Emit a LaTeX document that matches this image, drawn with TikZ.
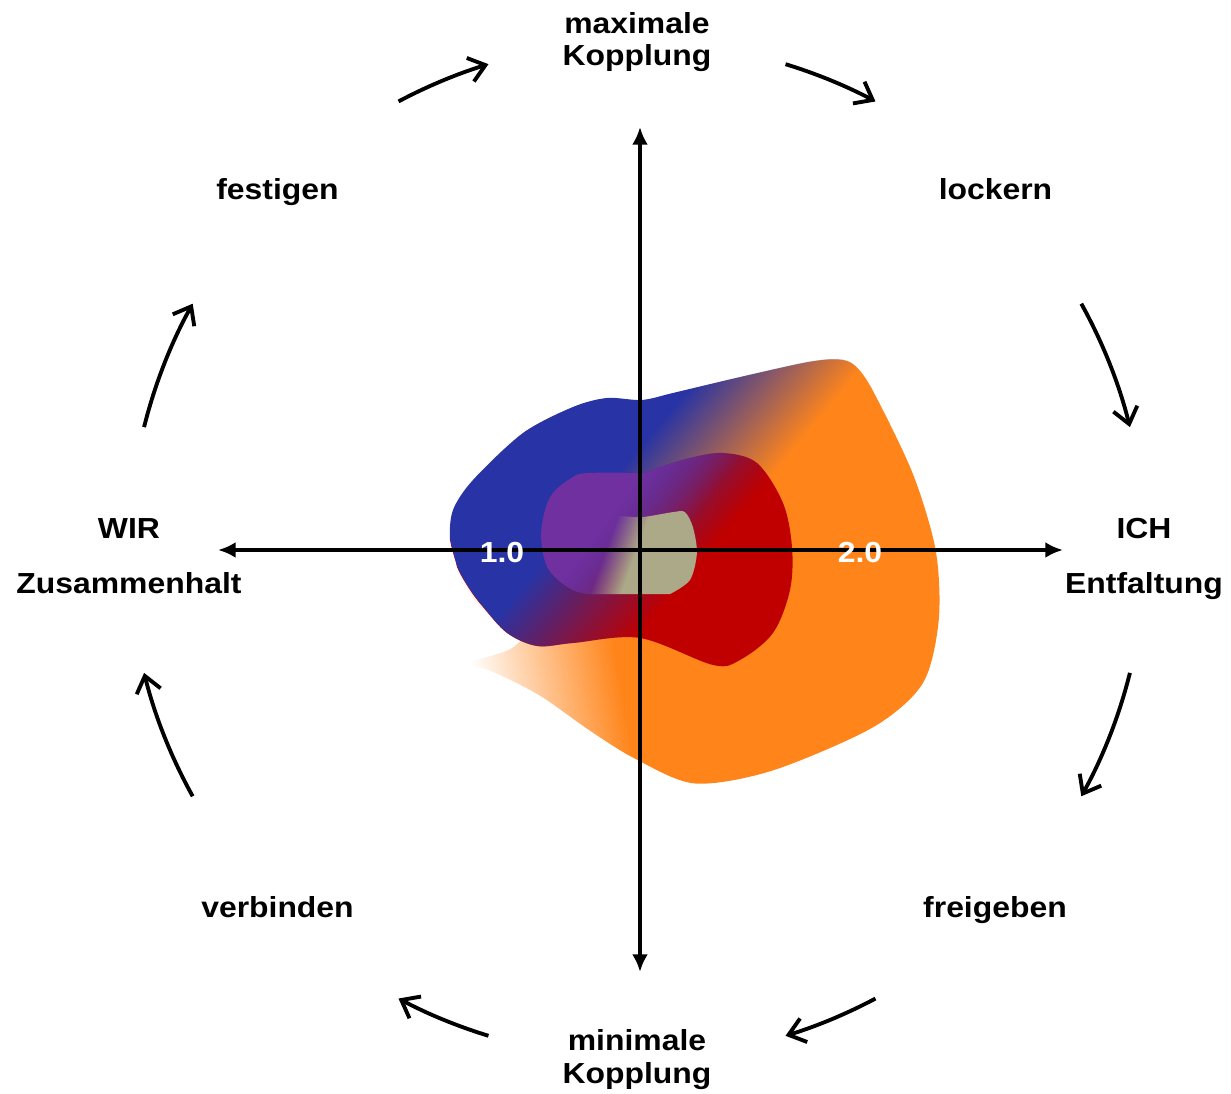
\documentclass[tikz,border=0pt]{standalone}
\usepackage{fontspec}
\setmainfont{Liberation Sans}[FakeStretch=1.1]
\usetikzlibrary{arrows.meta,fadings}

\definecolor{myorange}{RGB}{255,133,27}
\definecolor{myblue}{RGB}{40,52,165}
\definecolor{myred}{RGB}{192,0,0}
\definecolor{mypurple}{RGB}{112,48,160}
\definecolor{mykhaki}{RGB}{172,169,137}

% soft edge: opaque on the left, transparent on the right, band of 2cm
\pgfdeclarehorizontalshading{edgeshade}{2000bp}{color(0bp)=(white); color(971.65bp)=(white); color(1028.35bp)=(black); color(2000bp)=(black)}
\pgfdeclarefading{edgefade}{\pgfuseshading{edgeshade}}

\tikzstyle{ringtext}=[font=\bfseries\fontsize{16.5}{18}\selectfont, anchor=base, inner sep=0pt]
\tikzstyle{scaletext}=[ringtext, text=white]
\tikzstyle{axisline}=[line width=2pt, {Latex[length=10pt,width=9pt]}-{Latex[length=10pt,width=9pt]}]
\tikzstyle{cyclearrow}=[line width=2.2pt, -{Straight Barb[length=9pt,width=14pt]}]
\tikzset{soft edge/.style n args={4}{path fading=edgefade, fit fading=false,
    fading transform={shift={(#1,#2)}, rotate=#3, xscale=#4}}}

% orange outline with its tail, and a wider one to clip the inner layers
\def\outerblob{plot[smooth cycle, tension=0.5] coordinates {(-180,-113) (-150,-120) (-100,-145) (-50,-180) (-5,-208) (55,-233) (133,-220) (233,-177) (283,-133) (299,-70) (296,0) (273,77) (233,160) (215,185) (198,191) (167,188) (100,173) (33,157) (2,150) (-33,152) (-67,143) (-117,117) (-167,70) (-187,40) (-190,10) (-183,-17) (-165,-50) (-140,-72) (-118,-86) (-130,-99) (-158,-108)}}
\def\clipblob{plot[smooth cycle, tension=0.5] coordinates {(-180,-113) (-150,-120) (-100,-145) (-50,-180) (-5,-208) (55,-233) (133,-220) (233,-177) (283,-133) (299,-70) (296,0) (273,77) (233,160) (215,185) (198,191) (167,188) (100,173) (33,157) (2,150) (-33,152) (-67,143) (-117,117) (-167,70) (-187,40) (-190,10) (-183,-17) (-178,-60) (-185,-100)}}
\def\redblob{plot[smooth, tension=0.55] coordinates {(-190,10) (-183,-17) (-170,-40) (-157,-57) (-133,-83) (-103,-96) (-67,-93) (0,-88) (73,-115) (100,-110) (133,-83) (150,-40) (152,3) (143,47) (117,87) (83,97) (50,92) (17,82) (0,77) (-60,80) (-120,60) (-170,30)} -- cycle}

\begin{document}
\begin{tikzpicture}[x=0.02cm, y=0.02cm]
\useasboundingbox (-640,-544) rectangle (591,550);

% coloured layers
\fill[myorange, soft edge={-113.3}{-20}{190}{1.44}] \outerblob;
\begin{scope}
    \clip \clipblob;
    \fill[myred] \redblob;
    \fill[myblue, soft edge={-5.4}{4.5}{-40}{1.2}] plot[smooth, tension=0.55] coordinates {(-190,10) (-183,-17) (-170,-40) (-157,-57) (-133,-83) (-103,-96) (-67,-93) (0,-88) (73,-115) (100,-110)} -- (400,-110) -- (400,300) -- (-300,300) -- (-300,10) -- cycle;
\end{scope}
\begin{scope}
    \clip \redblob;
    \fill[mypurple, soft edge={-7.2}{5.4}{-37}{0.7}] plot[smooth, tension=0.55] coordinates {(-20,-44) (-53,-44) (-73,-37) (-93,-17) (-99,17) (-90,53) (-67,73) (-50,77) (0,77)} -- (0,200) -- (300,200) -- (300,-44) -- cycle;
\end{scope}
\fill[mykhaki, soft edge={-16.9}{6.2}{160}{0.3}] plot[smooth, tension=0.5] coordinates {(-75,-44) (-78,-20) (-55,15) (-30,33) (2,33) (33,38) (45,38) (53,23) (57,-3) (50,-30) (30,-44)} -- cycle;

% axes
\coordinate (axW) at (-422,0);
\coordinate (axE) at (423,0);
\coordinate (axN) at (0,423);
\coordinate (axS) at (0,-422);
\draw[axisline] (axW) -- (axE);
\draw[axisline] (axS) -- (axN);

\node[scaletext] (one) at (-138,-13) {1.0};
\node[scaletext] (two) at (220,-13) {2.0};

% ring of arrows
\coordinate (ctr) at (-3,0);
\foreach \a/\b in {118/107,73/62,29/14,-14/-29,-62/-73,-107/-118,-151/-166,166/151}
    \draw[cyclearrow] ([shift={(\a:508)}]ctr) arc[start angle=\a, end angle=\b, radius=508];

\node[ringtext] (maxi1) at (-3,516) {maximale};
\node[ringtext] (maxi2) at (-3,484) {Kopplung};
\node[ringtext] (mini1) at (-3,-501) {minimale};
\node[ringtext] (mini2) at (-3,-534) {Kopplung};
\node[ringtext] (festigen) at (-362.5,350) {festigen};
\node[ringtext] (lockern) at (355.5,350) {lockern};
\node[ringtext] (verbinden) at (-362.5,-368) {verbinden};
\node[ringtext] (freigeben) at (355,-368) {freigeben};
\node[ringtext] (wir) at (-511,11) {WIR};
\node[ringtext] (wirsub) at (-511,-44) {Zusammenhalt};
\node[ringtext] (ich) at (504,11) {ICH};
\node[ringtext] (ichsub) at (504,-44) {Entfaltung};

\end{tikzpicture}
\end{document}
